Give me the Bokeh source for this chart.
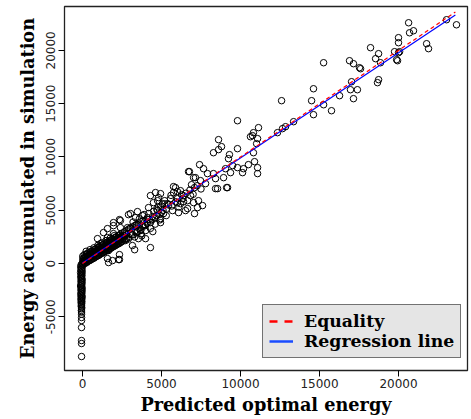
from bokeh.plotting import figure
from bokeh.models import Range1d, FixedTicker, Legend, LegendItem
from bokeh.embed import file_html
from bokeh.resources import INLINE

# ---------------- data ----------------
# points stacked near zero predicted energy (negative accumulated energy)
column_x = [-40, -90, -20, -110, -60, -30, -100, -70, -20, -120, -50, -90, -30, -80,
            -110, -40, -70, -20, -100, -60, -30, -90, -50, -120, -40, -80, -20, -100,
            -60, -30, -90, -50, -110, -40, -70, -20, -100, -60, -80, -40, -90, -50,
            -70, -60, -80, -50, -60, -70, -60, -60, -60, -60, -60, -60, -60, -60]
column_y = [-40, -130, -220, -310, -400, -480, -570, -660, -750, -840, -930, -1020, -1110, -1200,
            -1290, -1380, -1470, -1560, -1650, -1740, -1830, -1920, -2010, -2100, -2190, -2280, -2370, -2460,
            -2550, -2640, -2730, -2820, -2910, -3000, -3090, -3180, -3270, -3360, -3450, -3540, -3630, -3720,
            -3810, -3900, -4000, -4120, -4250, -4400, -4550, -4750, -5060, -5340, -6000, -7220, -7500, -8720]

# dense band of low-energy runs
band_x = [20, 20, 20, 20,
          110, 110, 110, 110,
          230, 230, 230, 230, 230,
          350, 350, 350, 350,
          470, 470, 470, 470, 470,
          600, 600, 600, 600,
          720, 720, 720, 720, 720,
          850, 850, 850, 850,
          980, 980, 980, 980, 980,
          1100, 1100, 1100, 1100,
          1230, 1230, 1230, 1230, 1230,
          1360, 1360, 1360, 1360,
          1490, 1490, 1490, 1490, 1490,
          1620, 1620, 1620, 1620,
          1750, 1750, 1750, 1750, 1750,
          1880, 1880, 1880, 1880,
          2010, 2010, 2010, 2010, 2010,
          2140, 2140, 2140, 2140,
          2270, 2270, 2270, 2270,
          2400, 2400, 2400, 2400,
          2530, 2530, 2530,
          2660, 2660, 2660,
          2790, 2790, 2790,
          2920, 2920,
          3050, 3050,
          3180, 3180,
          3310, 3310,
          3440, 3440,
          3570, 3570,
          3700, 3700,
          3830, 3830,
          3960,
          4090,
          4220]
band_y = [30, 250, 480, 700,
          90, 310, 560, 820,
          140, 380, 620, 900, 1150,
          230, 470, 720, 980,
          310, 560, 810, 1080, 1300,
          420, 660, 900, 1160,
          500, 760, 1010, 1270, 1480,
          640, 880, 1130, 1380,
          730, 990, 1240, 1500, 1720,
          850, 1100, 1350, 1600,
          960, 1210, 1460, 1720, 1950,
          1080, 1320, 1580, 1830,
          1170, 1430, 1680, 1940, 2160,
          1300, 1560, 1800, 2050,
          1390, 1650, 1910, 2170, 2380,
          1520, 1780, 2030, 2280,
          1630, 1890, 2140, 2400, 2620,
          1750, 2010, 2260, 2510,
          1860, 2120, 2380, 2640,
          1980, 2240, 2500, 2750,
          2100, 2480, 2870,
          2220, 2600, 2980,
          2340, 2720, 3100,
          2450, 3220,
          2830, 3340,
          2690, 3450,
          3060, 3570,
          2930, 3690,
          3300, 3810,
          3160, 3920,
          3530, 4040,
          3650,
          3770,
          4140]

band2_x = [65, 65, 65,
           170, 170, 170,
           290, 290, 290, 290,
           410, 410, 410,
           530, 530, 530, 530,
           660, 660, 660,
           780, 780, 780, 780,
           910, 910, 910,
           1040, 1040, 1040, 1040,
           1160, 1160, 1160,
           1290, 1290, 1290, 1290,
           1420, 1420, 1420,
           1550, 1550, 1550, 1550,
           1680, 1680, 1680,
           1810, 1810, 1810, 1810,
           1940, 1940, 1940,
           2070, 2070, 2070,
           2200, 2200, 2200,
           2330, 2330, 2330,
           2460, 2460,
           2590, 2590]
band2_y = [-80, 170, 420,
           20, 280, 540,
           120, 380, 640, 880,
           260, 520, 770,
           350, 610, 860, 1110,
           490, 740, 1000,
           580, 840, 1090, 1340,
           710, 970, 1220,
           800, 1060, 1310, 1560,
           930, 1190, 1440,
           1020, 1280, 1530, 1780,
           1150, 1410, 1660,
           1240, 1500, 1750, 2000,
           1370, 1630, 1880,
           1460, 1720, 1970, 2220,
           1590, 1850, 2100,
           1680, 1940, 2440,
           1810, 2070, 2320,
           1900, 2160, 2660,
           2030, 2540,
           2380, 2630]

# scattered runs
scatter_x = [23040, 23670, 20640, 20700, 20950, 20000, 20000, 19750, 20070, 20000, 19940, 21780, 21900,
             18230, 18740, 18550, 18860, 16900, 17150, 17600, 18740,
             15260, 14620, 14500, 14620, 15260, 15760, 16270, 17030, 16960, 17400, 17150, 17530, 18670, 19880,
             12600, 9810, 11140, 10820, 10630, 12340, 12660, 12850, 13360, 11080,
             10760, 8610, 8800, 8610, 8290, 9300, 9240, 9810, 11020, 10820, 10890, 11080, 11080, 10500,
             10130, 10190, 9810, 9500, 9050, 9370, 7410, 7660, 7910, 8290, 6770, 7030, 8930, 8420, 8550,
             9120, 7790, 7470, 7090, 5890, 5760, 6200, 6390, 6840, 6650, 7030, 7340, 7600, 7280, 7090,
             6650, 6200, 6010, 5570, 5380, 5700, 6080, 6520, 4620, 4810, 4490, 5060, 4750, 5130, 4430,
             4300, 4940, 4180, 2400, 3040, 3350, 3800, 4110, 4300, 3990, 3670, 3540, 3990, 3160, 2720,
             2400, 1960, 1650, 1580, 1900, 2340, 1960, 1580, 1140, 2400, 2850, 1960, 1580, 1330, 950,
             1650, 2280, 2340, 2340, 1960, 2910, 3480, 4750, 4940, 4940, 4940, 4300, 5760, 6010, 6270,
             6710, 7150, 8420, 9180,
             4600, 4850, 5100, 5300, 5450, 5650, 5900, 6100, 6350, 6550, 6800, 7000, 7250, 7500,
             4700, 5200, 5600, 6000, 6400, 6900,
             2900, 3000, 3100, 3200, 3300, 3400, 3500, 3600, 3700, 3800, 3900, 4000, 4100, 4200,
             4300, 4400, 4500, 4600, 4700, 4800, 4900, 5000, 5200, 5300, 3300, 3750, 4450]
scatter_y = [22875, 22400, 22590, 21650, 21840, 21190, 20720, 19875, 19875, 19780, 19030, 20625, 20160,
             20250, 19690, 19220, 18840, 19030, 18750, 18280, 17250,
             18840, 16400, 15280, 13970, 14900, 14340, 15750, 17060, 16310, 16310, 15470, 18375, 16970, 19125,
             15280, 13400, 12750, 12280, 11900, 12280, 12660, 12840, 13310, 11720,
             12000, 11625, 10970, 10690, 10400, 10220, 9840, 10780, 11250, 10400, 9560, 9000, 8440, 9280,
             8530, 8900, 9000, 9190, 8900, 8530, 9280, 8900, 8440, 8440, 8625, 8060, 8060, 7970, 7030,
             7125, 7500, 7780, 7125, 7125, 6660, 6840, 6375, 6375, 5900, 5720, 5900, 5440, 5250, 4690,
             5160, 5620, 6090, 6090, 5620, 4970, 4780, 4970, 6660, 6190, 5720, 5620, 4970, 4690, 4410,
             6375, 6560, 5250, 4030, 4690, 4310, 4500, 4310, 3840, 3560, 3090, 2340, 2340, 1690, 2160,
             2440, 1690, 1220, 470, 280, 375, 2810, 2440, 1875, 3375, 3375, 3840, 3280, 2910, 2340,
             95, 375, 840, 4125, 3560, 4590, 4875, 5900, 5340, 4220, 3840, 1500, 7220, 6750, 6470,
             8625, 8060, 7030, 7125,
             4300, 4600, 5000, 5100, 5500, 5400, 5800, 5300, 6100, 6600, 6900, 6500, 7300, 7000,
             5100, 5900, 6400, 5700, 5800, 7400,
             2300, 3300, 2700, 3900, 2500, 3600, 3000, 4200, 2800, 3500, 4600, 3100, 3900, 4700,
             3300, 4100, 4900, 3700, 4500, 5300, 4100, 4800, 5600, 4500, 1300, 2600, 3000]

pred_energy = column_x + band_x + band2_x + scatter_x
sim_energy = column_y + band_y + band2_y + scatter_y

# fitted lines
fit_range = [0, 23600]
reg_intercept = 60
reg_slope = 0.985

x_ticks = [0, 5000, 10000, 15000, 20000]
y_ticks = [-5000, 0, 5000, 10000, 15000, 20000]

# ---------------- figure ----------------
p = figure(width=471, height=419,
           x_range=Range1d(-1139, 24367), y_range=Range1d(-10030, 24115),
           output_backend="svg", toolbar_location=None,
           min_border_left=64, min_border_right=4, min_border_top=6, min_border_bottom=49)
p.grid.visible = False
p.outline_line_color = "#222222"
p.outline_line_width = 1.3
p.background_fill_color = "white"
p.border_fill_color = "white"

p.scatter(pred_energy, sim_energy, marker="circle", size=6.5,
          fill_color=None, line_color="black", line_width=1)

reg_y = [reg_intercept + reg_slope * v for v in fit_range]
p.line(fit_range, reg_y, line_color="blue", line_width=1.2)
p.line(fit_range, fit_range, line_color="red", line_width=1.2, line_dash="4 3")

# legend-only glyphs (thicker, as in the reference legend); NaN data draws nothing in the plot
nan = float("nan")
leg_red = p.line([nan], [nan], line_color="red", line_width=2.5, line_dash="8 7")
leg_blue = p.line([nan], [nan], line_color="#1a4cff", line_width=2.5)

for ax in (p.xaxis[0], p.yaxis[0]):
    ax.axis_line_color = None
    ax.major_tick_line_color = "black"
    ax.major_tick_out = 6
    ax.major_tick_in = 0
    ax.minor_tick_line_color = None
    ax.major_label_text_font = "DejaVu Sans"
    ax.major_label_text_font_size = "12px"
    ax.major_label_text_color = "#222222"
    ax.axis_label_text_font = "DejaVu Serif"
    ax.axis_label_text_font_style = "bold"
    ax.axis_label_text_font_size = "17.7px"
    ax.axis_label_text_color = "black"

p.xaxis.ticker = FixedTicker(ticks=x_ticks)
p.yaxis.ticker = FixedTicker(ticks=y_ticks)
p.xaxis.major_label_overrides = {t: str(t) for t in x_ticks}
p.yaxis.major_label_overrides = {t: str(t) for t in y_ticks}
p.yaxis.major_label_orientation = "vertical"
p.xaxis.axis_label = "Predicted optimal energy"
p.yaxis.axis_label = "Energy accumulated in simulation"
p.xaxis.major_label_standoff = 2
p.yaxis.major_label_standoff = 3
p.xaxis.axis_label_standoff = 3
p.yaxis.axis_label_standoff = 6

legend = Legend(items=[LegendItem(label="Equality", renderers=[leg_red]),
                       LegendItem(label="Regression line", renderers=[leg_blue])],
                location=(198, 12))
legend.background_fill_color = "#e5e5e5"
legend.background_fill_alpha = 1
legend.border_line_color = "black"
legend.border_line_width = 1.5
legend.label_text_font = "DejaVu Serif"
legend.label_text_font_style = "bold"
legend.label_text_font_size = "17.3px"
legend.label_text_color = "black"
legend.glyph_width = 24
legend.glyph_height = 20
legend.label_height = 20
legend.label_standoff = 11
legend.padding = 6
legend.spacing = 0
legend.margin = 0
p.add_layout(legend)

open("out.html", "w").write(file_html(p, INLINE))
